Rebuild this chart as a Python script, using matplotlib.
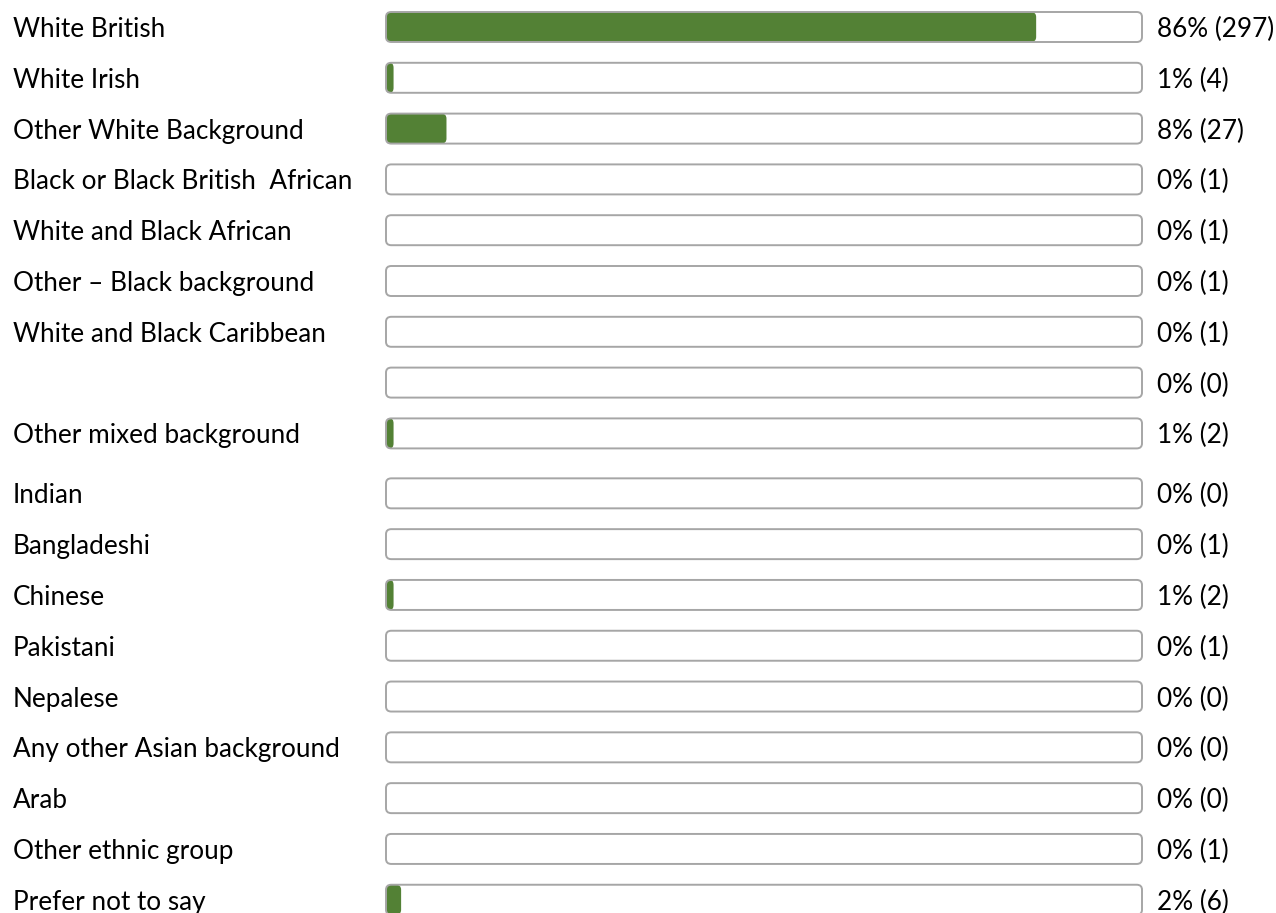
import numpy as np
import matplotlib.pyplot as plt
from matplotlib.patches import FancyBboxPatch
from matplotlib.transforms import blended_transform_factory

plt.rcParams['font.family'] = ['Lato', 'DejaVu Sans']

# data
groups = ['White British', 'White Irish', 'Other White Background',
          'Black or Black British  African', 'White and Black African',
          'Other \u2013 Black background', 'White and Black Caribbean', '',
          'Other mixed background', 'Indian', 'Bangladeshi', 'Chinese',
          'Pakistani', 'Nepalese', 'Any other Asian background', 'Arab',
          'Other ethnic group', 'Prefer not to say']
pct = [86, 1, 8, 0, 0, 0, 0, 0, 1, 0, 0, 1, 0, 0, 0, 0, 0, 2]
counts = [297, 4, 27, 1, 1, 1, 1, 0, 2, 0, 1, 2, 1, 0, 0, 0, 1, 6]

green = '#538135'
edge = '#a6a6a6'

W, H = 1276, 913
fig = plt.figure(figsize=(W / 100, H / 100), dpi=100)
# axes spans only the bar track, full height
ax = fig.add_axes([386 / W, 0, 756 / W, 1])
ax.set_xlim(0, 100)
pitch = 50.8  # px per row
ax.set_ylim((H - 27) / pitch, -27 / pitch)
ax.axis('off')

ypos = np.arange(len(groups), dtype=float)
ypos[9:] += 0.18  # small extra gap before "Indian"

bh = 30 / pitch
r = 0.7
asp = (5 / pitch) / r
fs = 18.8
toff = 2.5 / pitch  # nudge text down a bit

tr = blended_transform_factory(fig.transFigure, ax.transData)

for y, p, c, g in zip(ypos, pct, counts, groups):
    bg = FancyBboxPatch((0, y - bh / 2), 100, bh, boxstyle='round,pad=0,rounding_size=%g' % r,
                        mutation_aspect=asp, facecolor='white', edgecolor='none', zorder=1,
                        clip_on=False)
    ax.add_patch(bg)
    if p > 0:
        rr = min(r, p / 2)
        fill = FancyBboxPatch((0, y - bh / 2), p, bh,
                              boxstyle='round,pad=0,rounding_size=%g' % rr,
                              mutation_aspect=asp * r / rr,
                              facecolor=green, edgecolor='none', zorder=2, clip_on=False)
        ax.add_patch(fill)
    # near-transparent face keeps agg from clipping the curves badly at the canvas edge
    out = FancyBboxPatch((0, y - bh / 2), 100, bh, boxstyle='round,pad=0,rounding_size=%g' % r,
                         mutation_aspect=asp, facecolor=(1, 1, 1, 0.005), edgecolor=edge,
                         lw=1.4, zorder=3, clip_on=False)
    ax.add_patch(out)

    ax.text(13 / W, y + toff, g, transform=tr, ha='left', va='center', fontsize=fs, color='black')
    ax.text(1157 / W, y + toff, '%d%% (%d)' % (p, c), transform=tr, ha='left', va='center',
            fontsize=fs, color='black')

fig.savefig('out.png', dpi=100)
